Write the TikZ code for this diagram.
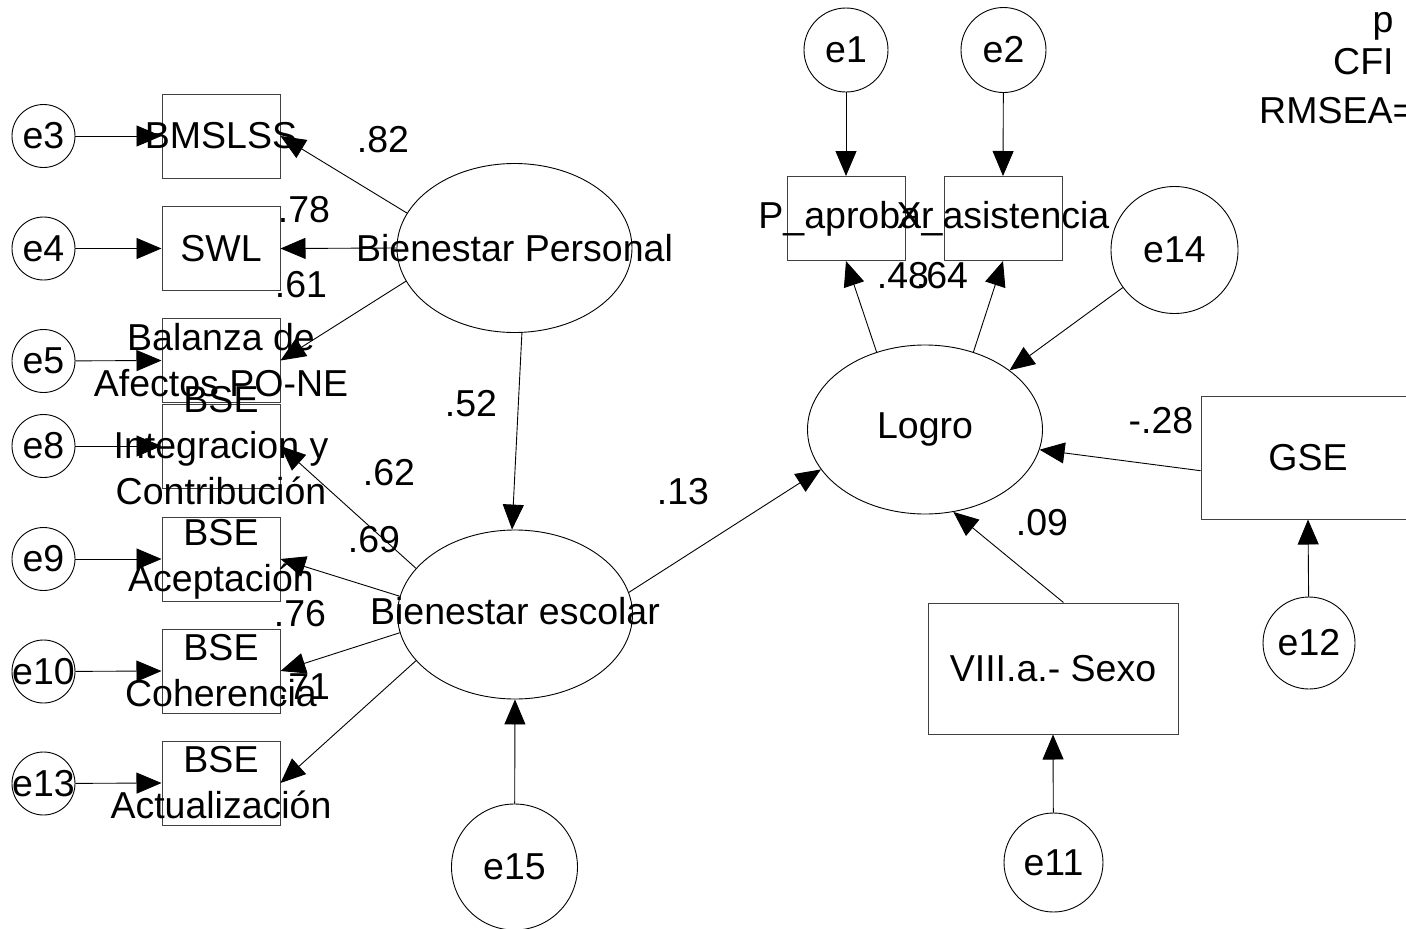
\documentclass[tikz,border=0pt]{standalone}
\usepackage{fontspec}
\setmainfont{Liberation Sans}
\usetikzlibrary{arrows.meta,shapes.geometric}
\begin{document}
\begin{tikzpicture}[x=1pt,y=-1pt,
  every node/.style={font=\fontsize{37.5}{46}\selectfont},
  txt/.style={inner sep=0, align=center},
  coef/.style={inner sep=0},
  obs/.style={draw=black!75, line width=1pt, rectangle, inner sep=0,
              minimum width=118, minimum height=84},
  lat/.style={draw, line width=0.9pt, ellipse, inner sep=0,
              minimum width=235, minimum height=169},
  err/.style={draw, line width=0.9pt, circle, inner sep=0, minimum size=#1},
  conn/.style={line width=0.9pt, -{Triangle[length=25pt,width=21pt]}},
]
\fill[white] (0,0) rectangle (1406,929);
\useasboundingbox (0,0) rectangle (1406,929);
\clip (0,0) rectangle (1406,929);

% ---------- left block: indicators and their errors ----------
\foreach \n/\y in {e3/136, e4/248.5, e5/361, e8/446, e9/559, e10/671.5, e13/783.5}{
  \node[err=63] (\n) at (43.5,\y) {};
  \node[txt] (\n-t) at (\n) {\n};
}
\node[obs] (bmslss) at (221,136) {};
\node[obs] (swl)    at (221,248.5) {};
\node[obs] (bal)    at (221,360.5) {};
\node[obs] (int)    at (221,446) {};
\node[obs] (acep)   at (221,559) {};
\node[obs] (coh)    at (221,671) {};
\node[obs] (act)    at (221,783) {};

% ---------- latent variables ----------
\node[lat] (bp) at (514.5,248) {};
\node[lat] (be) at (515,614.5) {};
\node[lat] (logro) at (925,429.5) {};
\node[err=126] (e15) at (514.5,867) {};

% ---------- right block ----------
\node[err=84] (e1) at (846,50) {};
\node[err=85] (e2) at (1003.5,50) {};
\node[obs] (papr)  at (846,218.5) {};
\node[obs] (xasis) at (1003,218.5) {};
\node[err=127] (e14) at (1174.5,250) {};
\node[obs, minimum width=214, minimum height=123] (gse) at (1308,457.5) {};
\node[err=92] (e12) at (1309,643) {};
\node[obs, minimum width=250, minimum height=131] (sexo) at (1053,668.5) {};
\node[err=99] (e11) at (1053.5,862.5) {};

% ---------- paths ----------
\foreach \e/\b in {e3/bmslss, e4/swl, e5/bal, e8/int, e9/acep, e10/coh, e13/act}
  \draw[conn] (\e) -- (\b.west);
\draw[conn] (bp.162.2) -- (bmslss.east);
\draw[conn] (bp.west) -- (swl.east);
\draw[conn] (bp.197.6) -- (bal.east);
\draw[conn] (bp.275.8) -- (be.92);
\draw[conn] (be.155) -- (int.east);
\draw[conn] (be.171.3) -- (acep.east);
\draw[conn] (be.189.1) -- (coh.east);
\draw[conn] (be.205.4) -- (act.east);
\draw[conn] (be.11.7) -- (logro.201.4);
\draw[conn] (e15) -- (be.south);
\draw[conn] (e1) -- (papr.north);
\draw[conn] (e2) -- (xasis.north);
\draw[conn] (logro.122.8) -- (papr.south);
\draw[conn] (logro.58.2) -- (xasis.south);
\draw[conn] (e14.216) -- (logro.35.6);
\draw[conn] (gse.187.2) -- (logro.350.9);
\draw[conn] (sexo.81.3) -- (logro.289.2);
\draw[conn] (e12) -- (gse.south);
\draw[conn] (e11) -- (sexo.south);

% ---------- variable names ----------
\node[txt] (bmslss-t) at (bmslss) {BMSLSS};
\node[txt] (swl-t)    at (swl) {SWL};
\node[txt] (bal-t)    at (bal) {Balanza de\\Afectos PO-NE};
\node[txt] (int-t)    at (int) {BSE\\Integracion y\\Contribución};
\node[txt] (acep-t)   at (acep) {BSE\\Aceptación};
\node[txt] (coh-t)    at (coh) {BSE\\Coherencia};
\node[txt] (act-t)    at (act) {BSE\\Actualización};
\node[txt] (bp-t)     at (bp) {Bienestar Personal};
\node[txt] (be-t)     at ([yshift=3pt]be.center) {Bienestar escolar};
\node[txt] (logro-t)  at (logro) {Logro};
\node[txt] (e15-t)    at (e15) {e15};
\node[txt] (e1-t)     at (e1) {e1};
\node[txt] (e2-t)     at (e2) {e2};
\node[txt] (papr-t)   at (papr) {P\_aprobar};
\node[txt] (xasis-t)  at (xasis) {X\_asistencia};
\node[txt] (e14-t)    at (e14) {e14};
\node[txt] (gse-t)    at (gse) {GSE};
\node[txt] (e12-t)    at (e12) {e12};
\node[txt] (sexo-t)   at (sexo) {VIII.a.- Sexo};
\node[txt] (e11-t)    at (e11) {e11};

% ---------- coefficients ----------
\node[coef] (c82)  at (383,140) {.82};
\node[coef] (c78)  at (304,210) {.78};
\node[coef] (c61)  at (301,285) {.61};
\node[coef] (c52)  at (471,404) {.52};
\node[coef] (c62)  at (389,473) {.62};
\node[coef] (c69)  at (374,540) {.69};
\node[coef] (c13)  at (683,492) {.13};
\node[coef] (c76)  at (300,614) {.76};
\node[coef] (c71)  at (304,687) {.71};
\node[coef] (c48)  at (903,276) {.48};
\node[coef] (c64)  at (942,276) {.64};
\node[coef] (c28)  at (1161,421) {-.28};
\node[coef] (c09)  at (1042,523) {.09};

% ---------- fit indices ----------
\node[coef, anchor=base west] (fit-p)    at (1372.5,32) {p};
\node[coef, anchor=base west] (fit-cfi)  at (1333,74) {CFI};
\node[coef, anchor=base west] (fit-rmsea) at (1259,123) {RMSEA=};
\end{tikzpicture}
\end{document}
